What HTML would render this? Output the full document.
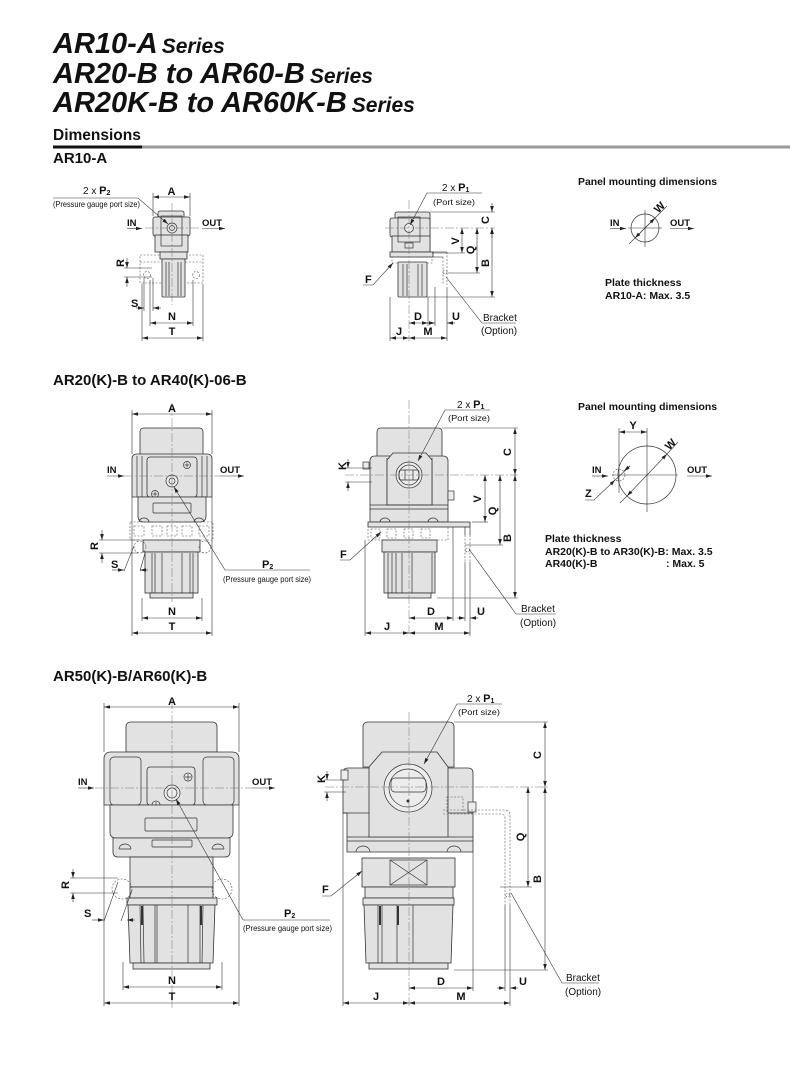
<!DOCTYPE html>
<html><head><meta charset="utf-8">
<style>
html,body{margin:0;padding:0;background:#fff;}
svg{display:block}
text{font-family:"Liberation Sans",Arial,sans-serif;fill:#111}
.b{font-weight:bold;font-size:11px}
.io{font-weight:bold;font-size:9.5px}
.sm{font-size:8px}
.br{font-size:10px}
.o{fill:#e2e2e2;stroke:#333;stroke-width:0.8}
.w{fill:#ececec;stroke:#333;stroke-width:0.7}
.l{stroke:#333;stroke-width:0.7;fill:none}
.d{stroke:#333;stroke-width:0.6;fill:none}
.c{stroke:#777;stroke-width:0.5;stroke-dasharray:9 2 2 2;fill:none}
.h{stroke:#555;stroke-width:0.6;stroke-dasharray:2 1.5;fill:none}
.pm{font-weight:bold;font-size:10.5px}
</style></head><body>
<svg width="790" height="1066" viewBox="0 0 790 1066" xmlns="http://www.w3.org/2000/svg">
<defs>
<marker id="a" viewBox="0 0 10 6" refX="10" refY="3" markerWidth="6" markerHeight="3.6" markerUnits="userSpaceOnUse" orient="auto-start-reverse" preserveAspectRatio="none"><path d="M0,0L10,3L0,6z" fill="#222"/></marker>
</defs>
<rect width="790" height="1066" fill="#fff"/>

<!-- Titles -->
<text x="53" y="53" font-size="29" font-weight="bold" font-style="italic">AR10-A<tspan font-size="21" dx="4">Series</tspan></text>
<text x="53" y="83" font-size="29" font-weight="bold" font-style="italic">AR20-B to AR60-B<tspan font-size="21" dx="5">Series</tspan></text>
<text x="53" y="112" font-size="29" font-weight="bold" font-style="italic">AR20K-B to AR60K-B<tspan font-size="21" dx="5">Series</tspan></text>
<text x="53" y="140" font-size="15.5" font-weight="bold">Dimensions</text>
<rect x="53" y="145.5" width="89" height="3" fill="#111"/>
<rect x="142" y="145.5" width="648" height="3" fill="#9a9a9a"/>
<text x="53" y="163" font-size="15" font-weight="bold">AR10-A</text>
<text x="53" y="385" font-size="15" font-weight="bold">AR20(K)-B to AR40(K)-06-B</text>
<text x="53" y="681" font-size="15" font-weight="bold">AR50(K)-B/AR60(K)-B</text>

<!-- ================= AR10-A FRONT ================= -->
<g>
<rect class="h" x="140" y="255" width="63" height="28"/>
<line class="h" x1="140" y1="262" x2="203" y2="262"/>
<circle class="h" cx="147" cy="275" r="3.5"/>
<circle class="h" cx="196" cy="275" r="3.5"/>
<rect class="o" x="158" y="211" width="26" height="41" rx="2"/>
<rect class="o" x="153" y="217" width="37" height="19" rx="2"/>
<rect class="o" x="155" y="235" width="33" height="17"/>
<rect class="l" x="161" y="216" width="21" height="30"/>
<rect class="o" x="160" y="252" width="27" height="7"/>
<rect class="o" x="162" y="259" width="23" height="38" rx="1"/>
<line class="l" x1="166" y1="262" x2="166" y2="296"/>
<line class="l" x1="169" y1="262" x2="169" y2="296"/>
<line class="l" x1="178" y1="262" x2="178" y2="296"/>
<line class="l" x1="181" y1="262" x2="181" y2="296"/>
<circle class="w" cx="172" cy="228" r="5"/>
<circle class="l" cx="172" cy="228" r="2.5"/>
<line class="c" x1="172" y1="203" x2="172" y2="305"/>
<line class="c" x1="145" y1="228" x2="199" y2="228"/>
<!-- A -->
<line class="d" x1="153" y1="197" x2="190" y2="197" marker-start="url(#a)" marker-end="url(#a)"/>
<line class="d" x1="153" y1="193" x2="153" y2="216"/>
<line class="d" x1="190" y1="193" x2="190" y2="216"/>
<text class="b" x="171.5" y="195" text-anchor="middle">A</text>
<!-- P2 -->
<text x="83" y="194" font-size="10">2 x <tspan font-weight="bold" font-size="11">P</tspan><tspan font-size="7" font-weight="bold" dy="1">2</tspan></text>
<text class="sm" x="53" y="207" textLength="87" lengthAdjust="spacingAndGlyphs">(Pressure gauge port size)</text>
<polyline class="d" points="53,198 138,198 168,224" marker-end="url(#a)"/>
<!-- IN OUT -->
<text class="io" x="127" y="226">IN</text>
<line class="d" x1="127" y1="228.5" x2="142" y2="228.5" marker-end="url(#a)"/>
<text class="io" x="202" y="226">OUT</text>
<line class="d" x1="202" y1="228.5" x2="225" y2="228.5" marker-end="url(#a)"/>
<!-- R -->
<line class="d" x1="124" y1="268" x2="152" y2="268"/>
<line class="d" x1="124" y1="277" x2="152" y2="277"/>
<line class="d" x1="127" y1="258" x2="127" y2="268" marker-end="url(#a)"/>
<line class="d" x1="127" y1="287" x2="127" y2="277" marker-end="url(#a)"/>
<text class="b" transform="translate(124,263) rotate(-90)" text-anchor="middle">R</text>
<!-- S -->
<line class="d" x1="144" y1="278" x2="144" y2="311"/>
<line class="d" x1="153" y1="278" x2="153" y2="311"/>
<line class="d" x1="136" y1="308" x2="144" y2="308" marker-end="url(#a)"/>
<line class="d" x1="161" y1="308" x2="153" y2="308" marker-end="url(#a)"/>
<text class="b" x="131" y="307">S</text>
<!-- N T -->
<line class="d" x1="150" y1="280" x2="150" y2="326"/>
<line class="d" x1="193" y1="280" x2="193" y2="326"/>
<line class="d" x1="150" y1="323" x2="193" y2="323" marker-start="url(#a)" marker-end="url(#a)"/>
<text class="b" x="172" y="320" text-anchor="middle">N</text>
<line class="d" x1="142" y1="284" x2="142" y2="341"/>
<line class="d" x1="203" y1="284" x2="203" y2="341"/>
<line class="d" x1="142" y1="338" x2="203" y2="338" marker-start="url(#a)" marker-end="url(#a)"/>
<text class="b" x="172" y="335" text-anchor="middle">T</text>
</g>

<!-- ================= AR10-A SIDE ================= -->
<g>
<rect class="o" x="395" y="212" width="35" height="40" rx="2"/>
<rect class="o" x="390" y="218" width="40" height="19" rx="2"/>
<rect class="o" x="392" y="236" width="38" height="16"/>
<rect class="l" x="398" y="217" width="22" height="25"/>
<rect class="l" x="405" y="243" width="8" height="5"/>
<rect class="o" x="390" y="252" width="43" height="5"/>
<line class="d" x1="433" y1="252" x2="447" y2="252"/>
<line class="d" x1="433" y1="257" x2="443" y2="257"/>
<path class="h" d="M447,252 V285 M443,257 V285"/>
<circle class="h" cx="445" cy="272" r="2"/>
<rect class="h" x="392" y="257" width="40" height="6"/>
<rect class="o" x="398" y="262" width="29" height="35" rx="1"/>
<line class="l" x1="403" y1="264" x2="403" y2="296"/>
<line class="l" x1="407" y1="264" x2="407" y2="296"/>
<line class="l" x1="418" y1="264" x2="418" y2="296"/>
<line class="l" x1="422" y1="264" x2="422" y2="296"/>
<circle class="w" cx="409" cy="228" r="4.5"/>
<line class="c" x1="409" y1="200" x2="409" y2="341"/>
<line class="c" x1="385" y1="228" x2="495" y2="228"/>
<line class="d" x1="430" y1="212" x2="495" y2="212"/>
<line class="d" x1="427" y1="297" x2="495" y2="297"/>
<line class="d" x1="432" y1="253" x2="465" y2="253"/>
<line class="d" x1="448" y1="273" x2="480" y2="273"/>
<!-- C -->
<line class="d" x1="492" y1="203" x2="492" y2="212" marker-end="url(#a)"/>
<line class="d" x1="492" y1="238" x2="492" y2="228" marker-end="url(#a)"/>
<text class="b" transform="translate(489,220) rotate(-90)" text-anchor="middle">C</text>
<line class="d" x1="462" y1="228" x2="462" y2="253" marker-start="url(#a)" marker-end="url(#a)"/>
<text class="b" transform="translate(459,241) rotate(-90)" text-anchor="middle">V</text>
<line class="d" x1="477" y1="228" x2="477" y2="273" marker-start="url(#a)" marker-end="url(#a)"/>
<text class="b" transform="translate(474,250) rotate(-90)" text-anchor="middle">Q</text>
<line class="d" x1="492" y1="228" x2="492" y2="297" marker-start="url(#a)" marker-end="url(#a)"/>
<text class="b" transform="translate(489,263) rotate(-90)" text-anchor="middle">B</text>
<!-- P1 -->
<text x="442" y="191" font-size="10">2 x <tspan font-weight="bold" font-size="11">P</tspan><tspan font-size="7" font-weight="bold" dy="1">1</tspan></text>
<text class="sm" x="433" y="205" font-size="9" textLength="42" lengthAdjust="spacingAndGlyphs">(Port size)</text>
<polyline class="d" points="482,193 427,193 410,225" marker-end="url(#a)"/>
<!-- F -->
<text class="b" x="365" y="283">F</text>
<polyline class="d" points="363,285 373,285 393,263" marker-end="url(#a)"/>
<!-- bottom dims -->
<line class="d" x1="390" y1="297" x2="390" y2="341"/>
<line class="d" x1="428" y1="297" x2="428" y2="326"/>
<line class="d" x1="435" y1="287" x2="435" y2="326"/>
<line class="d" x1="447" y1="287" x2="447" y2="341"/>
<line class="d" x1="409" y1="323" x2="428" y2="323" marker-start="url(#a)" marker-end="url(#a)"/>
<text class="b" x="418" y="320" text-anchor="middle">D</text>
<line class="d" x1="428" y1="323" x2="435" y2="323" marker-end="url(#a)"/>
<line class="d" x1="455" y1="323" x2="447" y2="323" marker-end="url(#a)"/>
<text class="b" x="456" y="320" text-anchor="middle">U</text>
<line class="d" x1="390" y1="338" x2="409" y2="338" marker-start="url(#a)" marker-end="url(#a)"/>
<text class="b" x="399" y="335" text-anchor="middle">J</text>
<line class="d" x1="409" y1="338" x2="447" y2="338" marker-start="url(#a)" marker-end="url(#a)"/>
<text class="b" x="428" y="335" text-anchor="middle">M</text>
<polyline class="d" points="446,277 482,323 516,323"/>
<text class="br" x="483" y="321">Bracket</text>
<text class="br" x="481" y="334">(Option)</text>
</g>

<!-- ================= PANEL AR10 ================= -->
<g>
<text class="pm" x="578" y="185" textLength="139" lengthAdjust="spacingAndGlyphs">Panel mounting dimensions</text>
<circle class="l" cx="645" cy="228" r="14"/>
<line class="d" x1="628" y1="228" x2="662" y2="228"/>
<line class="d" x1="645" y1="210" x2="645" y2="247"/>
<line class="d" x1="655" y1="218" x2="635" y2="238"/>
<line class="d" x1="645" y1="228" x2="655" y2="218" marker-end="url(#a)"/>
<line class="d" x1="645" y1="228" x2="635" y2="238" marker-end="url(#a)"/>
<line class="d" x1="655" y1="218" x2="667" y2="206"/>
<line class="d" x1="635" y1="238" x2="629" y2="244"/>
<text class="b" transform="translate(662,210) rotate(-45)" text-anchor="middle">W</text>
<text class="io" x="610" y="226">IN</text>
<line class="d" x1="610" y1="228.5" x2="626" y2="228.5" marker-end="url(#a)"/>
<text class="io" x="670" y="226">OUT</text>
<line class="d" x1="670" y1="228.5" x2="694" y2="228.5" marker-end="url(#a)"/>
<text class="pm" x="605" y="286">Plate thickness</text>
<text class="pm" x="605" y="299">AR10-A: Max. 3.5</text>
</g>

<!-- ================= AR20 FRONT ================= -->
<g>
<rect class="h" x="130" y="522" width="83" height="18"/>
<rect class="h" x="134" y="526" width="10" height="10"/>
<rect class="h" x="152" y="526" width="10" height="10"/>
<rect class="h" x="167" y="526" width="10" height="10"/>
<rect class="h" x="182" y="526" width="10" height="10"/>
<rect class="h" x="199" y="526" width="10" height="10"/>
<path class="o" d="M140,457 V432 Q140,428 144,428 H199 Q203,428 203,432 V457 Z"/>
<path class="o" d="M132,459 Q132,454 137,454 H207 Q212,454 212,459 V497 H132 Z"/>
<line class="l" x1="137" y1="456" x2="137" y2="497"/>
<line class="l" x1="142" y1="456" x2="142" y2="497"/>
<line class="l" x1="202" y1="456" x2="202" y2="497"/>
<line class="l" x1="207" y1="456" x2="207" y2="497"/>
<rect class="o" x="147" y="457" width="50" height="40" rx="3"/>
<circle class="w" cx="187" cy="465" r="3.5"/><path class="l" d="M184.5,465h5M187,462.5v5"/>
<circle class="w" cx="155" cy="494" r="3.5"/><path class="l" d="M152.5,494h5M155,491.5v5"/>
<path class="o" d="M138,497 H206 V516 Q206,522 200,522 H144 Q138,522 138,516 Z"/>
<rect class="l" x="153" y="503" width="38" height="10" rx="1"/>
<path class="l" d="M139,522 a5,4 0 0 1 10,0 M194,522 a5,4 0 0 1 10,0"/>
<rect class="o" x="143" y="540" width="57" height="12"/>
<rect class="o" x="145" y="552" width="53" height="41"/>
<rect class="o" x="150" y="593" width="43" height="5"/>
<line class="l" x1="152" y1="553" x2="152" y2="593"/>
<line class="l" x1="155" y1="553" x2="155" y2="593"/>
<line class="l" x1="162" y1="553" x2="162" y2="593"/>
<line class="l" x1="182" y1="553" x2="182" y2="593"/>
<line class="l" x1="190" y1="553" x2="190" y2="593"/>
<line class="l" x1="193" y1="553" x2="193" y2="593"/>
<circle class="h" cx="140" cy="547" r="6"/>
<circle class="h" cx="205" cy="547" r="6"/>
<circle class="w" cx="172" cy="481" r="6"/>
<circle class="l" cx="172" cy="481" r="3"/>
<line class="c" x1="172" y1="403" x2="172" y2="602"/>
<line class="c" x1="124" y1="476" x2="220" y2="476"/>
<line class="d" x1="132" y1="410" x2="132" y2="454"/>
<line class="d" x1="212" y1="410" x2="212" y2="454"/>
<line class="d" x1="132" y1="497" x2="132" y2="636"/>
<line class="d" x1="212" y1="497" x2="212" y2="636"/>
<line class="d" x1="132" y1="414" x2="212" y2="414" marker-start="url(#a)" marker-end="url(#a)"/>
<text class="b" x="172" y="412" text-anchor="middle">A</text>
<text class="io" x="107" y="473">IN</text>
<line class="d" x1="107" y1="476" x2="124" y2="476" marker-end="url(#a)"/>
<text class="io" x="220" y="473">OUT</text>
<line class="d" x1="220" y1="476" x2="244" y2="476" marker-end="url(#a)"/>
<polyline class="d" points="310,570 225,570 174,487" marker-end="url(#a)"/>
<text x="262" y="568" font-size="11" font-weight="bold">P<tspan font-size="7" dy="1">2</tspan></text>
<text class="sm" x="223" y="582" textLength="88" lengthAdjust="spacingAndGlyphs">(Pressure gauge port size)</text>
<!-- R -->
<line class="d" x1="99" y1="540" x2="140" y2="540"/>
<line class="d" x1="99" y1="553" x2="138" y2="553"/>
<line class="d" x1="102" y1="530" x2="102" y2="540" marker-end="url(#a)"/>
<line class="d" x1="102" y1="563" x2="102" y2="553" marker-end="url(#a)"/>
<text class="b" transform="translate(98,546) rotate(-90)" text-anchor="middle">R</text>
<!-- S -->
<text class="b" x="111" y="568">S</text>
<line class="d" x1="112" y1="570" x2="124" y2="570" marker-end="url(#a)"/>
<line class="d" x1="148" y1="570" x2="140" y2="570" marker-end="url(#a)"/>
<line class="d" x1="124" y1="571" x2="134" y2="546"/>
<line class="d" x1="140" y1="571" x2="145" y2="553"/>
<!-- N T -->
<line class="d" x1="142" y1="598" x2="142" y2="621"/>
<line class="d" x1="202" y1="598" x2="202" y2="621"/>
<line class="d" x1="142" y1="618" x2="202" y2="618" marker-start="url(#a)" marker-end="url(#a)"/>
<text class="b" x="172" y="615" text-anchor="middle">N</text>
<line class="d" x1="132" y1="633" x2="212" y2="633" marker-start="url(#a)" marker-end="url(#a)"/>
<text class="b" x="172" y="630" text-anchor="middle">T</text>
</g>

<!-- ================= AR20 SIDE ================= -->
<g>
<path class="o" d="M377,457 V432 Q377,428 381,428 H438 Q442,428 442,432 V457 Z"/>
<path class="o" d="M370,461 Q370,456 375,456 H443 Q448,456 448,461 V522 H370 Z"/>
<line class="l" x1="387" y1="458" x2="387" y2="505"/>
<line class="l" x1="432" y1="458" x2="432" y2="505"/>
<path class="o" d="M387,505 V460 L393,453 H426 L432,460 V505 Z"/>
<line class="l" x1="370" y1="505" x2="448" y2="505"/>
<line class="l" x1="370" y1="509" x2="448" y2="509"/>
<rect class="w" x="363" y="462" width="6" height="7"/>
<rect class="w" x="448" y="491" width="6" height="9"/>
<circle class="w" cx="409" cy="475" r="13"/>
<circle class="l" cx="409" cy="475" r="10"/>
<rect class="l" x="399" y="470" width="20" height="10" rx="2"/>
<line class="l" x1="405" y1="470" x2="405" y2="480"/>
<line class="l" x1="413" y1="470" x2="413" y2="480"/>
<path class="l" d="M380,522 a5,4 0 0 1 10,0 M428,522 a5,4 0 0 1 10,0"/>
<rect class="o" x="368" y="522" width="102" height="5"/>
<rect class="h" x="368" y="527" width="80" height="13"/>
<rect class="h" x="371" y="529" width="9" height="9"/>
<rect class="h" x="387" y="529" width="9" height="9"/>
<rect class="h" x="404" y="529" width="9" height="9"/>
<rect class="h" x="421" y="529" width="9" height="9"/>
<path class="l" d="M465,527 V535 M470,527 V535"/>
<path class="h" d="M465,535 V562 M470,535 V562"/>
<circle class="h" cx="467.5" cy="550" r="2"/>
<rect class="o" x="382" y="540" width="55" height="12"/>
<rect class="o" x="384" y="552" width="51" height="41"/>
<rect class="o" x="388" y="593" width="43" height="5"/>
<line class="l" x1="388" y1="553" x2="388" y2="593"/>
<line class="l" x1="392" y1="553" x2="392" y2="593"/>
<line class="l" x1="396" y1="553" x2="396" y2="593"/>
<line class="l" x1="402" y1="553" x2="402" y2="593"/>
<line class="l" x1="412" y1="553" x2="412" y2="593"/>
<line class="l" x1="432" y1="553" x2="432" y2="593"/>
<line class="c" x1="409" y1="400" x2="409" y2="636"/>
<line class="c" x1="345" y1="475" x2="518" y2="475"/>
<line class="d" x1="442" y1="428" x2="518" y2="428"/>
<line class="d" x1="472" y1="522" x2="488" y2="522"/>
<line class="d" x1="465" y1="545" x2="503" y2="545"/>
<line class="d" x1="437" y1="598" x2="518" y2="598"/>
<line class="d" x1="515" y1="428" x2="515" y2="475" marker-start="url(#a)" marker-end="url(#a)"/>
<text class="b" transform="translate(511,452) rotate(-90)" text-anchor="middle">C</text>
<line class="d" x1="485" y1="475" x2="485" y2="522" marker-start="url(#a)" marker-end="url(#a)"/>
<text class="b" transform="translate(481,499) rotate(-90)" text-anchor="middle">V</text>
<line class="d" x1="500" y1="475" x2="500" y2="545" marker-start="url(#a)" marker-end="url(#a)"/>
<text class="b" transform="translate(496,511) rotate(-90)" text-anchor="middle">Q</text>
<line class="d" x1="515" y1="475" x2="515" y2="598" marker-start="url(#a)" marker-end="url(#a)"/>
<text class="b" transform="translate(511,538) rotate(-90)" text-anchor="middle">B</text>
<!-- K -->
<line class="d" x1="345" y1="468" x2="372" y2="468"/>
<line class="d" x1="345" y1="482" x2="372" y2="482"/>
<line class="d" x1="348" y1="459" x2="348" y2="468" marker-end="url(#a)"/>
<line class="d" x1="348" y1="491" x2="348" y2="482" marker-end="url(#a)"/>
<text class="b" transform="translate(346,466) rotate(-90)" text-anchor="middle">K</text>
<!-- P1 -->
<text x="457" y="408" font-size="10">2 x <tspan font-weight="bold" font-size="11">P</tspan><tspan font-size="7" font-weight="bold" dy="1">1</tspan></text>
<text class="sm" x="448" y="421" font-size="9" textLength="42" lengthAdjust="spacingAndGlyphs">(Port size)</text>
<polyline class="d" points="490,410 445,410 418,461" marker-end="url(#a)"/>
<!-- F -->
<text class="b" x="340" y="558">F</text>
<polyline class="d" points="340,560 350,560 381,532" marker-end="url(#a)"/>
<!-- bottom -->
<line class="d" x1="365" y1="540" x2="365" y2="636"/>
<line class="d" x1="453" y1="527" x2="453" y2="621"/>
<line class="d" x1="465" y1="562" x2="465" y2="621"/>
<line class="d" x1="470" y1="562" x2="470" y2="636"/>
<line class="d" x1="409" y1="618" x2="453" y2="618" marker-start="url(#a)" marker-end="url(#a)"/>
<text class="b" x="431" y="615" text-anchor="middle">D</text>
<line class="d" x1="457" y1="618" x2="465" y2="618" marker-end="url(#a)"/>
<line class="d" x1="478" y1="618" x2="470" y2="618" marker-end="url(#a)"/>
<text class="b" x="481" y="615" text-anchor="middle">U</text>
<line class="d" x1="365" y1="633" x2="409" y2="633" marker-start="url(#a)" marker-end="url(#a)"/>
<text class="b" x="387" y="630" text-anchor="middle">J</text>
<line class="d" x1="409" y1="633" x2="470" y2="633" marker-start="url(#a)" marker-end="url(#a)"/>
<text class="b" x="439" y="630" text-anchor="middle">M</text>
<polyline class="d" points="469,549 516,614 556,614"/>
<text class="br" x="521" y="612">Bracket</text>
<text class="br" x="520" y="626">(Option)</text>
</g>

<!-- ================= PANEL AR20 ================= -->
<g>
<text class="pm" x="578" y="410" textLength="139" lengthAdjust="spacingAndGlyphs">Panel mounting dimensions</text>
<circle class="l" cx="647" cy="475" r="29"/>
<circle class="h" cx="619" cy="475" r="6"/>
<line class="d" x1="612" y1="475" x2="678" y2="475"/>
<line class="d" x1="619" y1="428" x2="619" y2="493"/>
<line class="d" x1="647" y1="428" x2="647" y2="512"/>
<line class="d" x1="619" y1="432" x2="647" y2="432" marker-start="url(#a)" marker-end="url(#a)"/>
<text class="b" x="633" y="429" text-anchor="middle">Y</text>
<line class="d" x1="647" y1="475" x2="667" y2="454" marker-end="url(#a)"/>
<line class="d" x1="647" y1="475" x2="627" y2="496" marker-end="url(#a)"/>
<line class="d" x1="667" y1="454" x2="678" y2="442"/>
<line class="d" x1="627" y1="496" x2="620" y2="503"/>
<text class="b" transform="translate(673,447) rotate(-45)" text-anchor="middle">W</text>
<polyline class="d" points="585,500 594,500 630,466"/>
<line class="d" x1="612" y1="483" x2="615" y2="480" marker-end="url(#a)"/>
<line class="d" x1="630" y1="466" x2="624" y2="471" marker-end="url(#a)"/>
<text class="b" x="585" y="497">Z</text>
<text class="io" x="592" y="473">IN</text>
<line class="d" x1="592" y1="476" x2="608" y2="476" marker-end="url(#a)"/>
<text class="io" x="687" y="473">OUT</text>
<line class="d" x1="687" y1="476" x2="712" y2="476" marker-end="url(#a)"/>
<text class="pm" x="545" y="542">Plate thickness</text>
<text class="pm" x="545" y="555">AR20(K)-B to AR30(K)-B: Max. 3.5</text>
<text class="pm" x="545" y="567">AR40(K)-B</text>
<text class="pm" x="666" y="567">: Max. 5</text>
</g>

<!-- ================= AR50 FRONT ================= -->
<g>
<path class="o" d="M126,752 V727 Q126,722 131,722 H212 Q217,722 217,727 V752 Z"/>
<path class="o" d="M104,759 Q104,752 111,752 H232 Q239,752 239,759 V805 H104 Z"/>
<rect class="l" x="110" y="757" width="31" height="48" rx="4"/>
<rect class="l" x="203" y="757" width="31" height="48" rx="4"/>
<rect class="o" x="147" y="767" width="48" height="38" rx="3"/>
<circle class="w" cx="188" cy="777" r="4"/><path class="l" d="M185,777h6M188,774v6"/>
<circle class="w" cx="156" cy="805" r="4"/><path class="l" d="M153,805h6M156,802v6"/>
<path class="o" d="M110,805 H233 V832 Q233,838 227,838 H116 Q110,838 110,832 Z"/>
<rect class="l" x="145" y="818" width="52" height="13" rx="1"/>
<path class="o" d="M113,838 H230 V852 Q230,857 225,857 H118 Q113,857 113,852 Z"/>
<rect class="l" x="152" y="840" width="40" height="7" rx="1"/>
<path class="l" d="M119,849 a6,5 0 0 1 12,0 M212,849 a6,5 0 0 1 12,0 M119,849 h12 M212,849 h12"/>
<rect class="o" x="130" y="857" width="83" height="30"/>
<rect class="o" x="130" y="887" width="83" height="11"/>
<rect class="o" x="127" y="898" width="90" height="7"/>
<path class="o" d="M128,905 H215 L213,963 H130 Z"/>
<rect class="o" x="133" y="963" width="77" height="6"/>
<line class="l" x1="140" y1="905" x2="141" y2="963"/>
<line class="l" x1="143" y1="905" x2="144" y2="963"/>
<line stroke="#333" stroke-width="2" x1="142" y1="906" x2="142" y2="925"/>
<line class="l" x1="155" y1="905" x2="155" y2="963"/>
<line class="l" x1="157" y1="905" x2="157" y2="963"/>
<line class="l" x1="188" y1="905" x2="188" y2="963"/>
<line class="l" x1="200" y1="905" x2="200" y2="963"/>
<line class="l" x1="203" y1="905" x2="202" y2="963"/>
<line stroke="#333" stroke-width="2" x1="201" y1="906" x2="201" y2="925"/>
<circle class="h" cx="122" cy="889" r="10"/>
<circle class="h" cx="222" cy="889" r="10"/>
<circle class="w" cx="172" cy="793" r="8"/>
<circle class="l" cx="172" cy="793" r="5"/>
<line class="c" x1="172" y1="700" x2="172" y2="1008"/>
<line class="c" x1="95" y1="788" x2="252" y2="788"/>
<line class="d" x1="104" y1="703" x2="104" y2="752"/>
<line class="d" x1="239" y1="703" x2="239" y2="752"/>
<line class="d" x1="104" y1="805" x2="104" y2="1006"/>
<line class="d" x1="239" y1="805" x2="239" y2="1006"/>
<line class="d" x1="104" y1="707" x2="239" y2="707" marker-start="url(#a)" marker-end="url(#a)"/>
<text class="b" x="172" y="705" text-anchor="middle">A</text>
<text class="io" x="78" y="785">IN</text>
<line class="d" x1="78" y1="788" x2="94" y2="788" marker-end="url(#a)"/>
<text class="io" x="252" y="785">OUT</text>
<line class="d" x1="252" y1="788" x2="275" y2="788" marker-end="url(#a)"/>
<polyline class="d" points="330,920 243,920 176,799" marker-end="url(#a)"/>
<text x="284" y="917" font-size="11" font-weight="bold">P<tspan font-size="7" dy="1">2</tspan></text>
<text class="sm" x="243" y="931" textLength="89" lengthAdjust="spacingAndGlyphs">(Pressure gauge port size)</text>
<!-- R -->
<line class="d" x1="70" y1="878" x2="118" y2="878"/>
<line class="d" x1="70" y1="893" x2="118" y2="893"/>
<line class="d" x1="73" y1="869" x2="73" y2="878" marker-end="url(#a)"/>
<line class="d" x1="73" y1="902" x2="73" y2="893" marker-end="url(#a)"/>
<text class="b" transform="translate(69,885) rotate(-90)" text-anchor="middle">R</text>
<!-- S -->
<text class="b" x="84" y="917">S</text>
<line class="d" x1="92" y1="920" x2="104" y2="920" marker-end="url(#a)"/>
<line class="d" x1="135" y1="920" x2="127" y2="920" marker-end="url(#a)"/>
<line class="d" x1="104" y1="921" x2="118" y2="882"/>
<line class="d" x1="121" y1="921" x2="132" y2="890"/>
<!-- N T -->
<line class="d" x1="123" y1="962" x2="123" y2="990"/>
<line class="d" x1="222" y1="962" x2="222" y2="990"/>
<line class="d" x1="123" y1="987" x2="222" y2="987" marker-start="url(#a)" marker-end="url(#a)"/>
<text class="b" x="172" y="984" text-anchor="middle">N</text>
<line class="d" x1="104" y1="1003" x2="239" y2="1003" marker-start="url(#a)" marker-end="url(#a)"/>
<text class="b" x="172" y="1000" text-anchor="middle">T</text>
</g>

<!-- ================= AR50 SIDE ================= -->
<g>
<path class="o" d="M363,767 V727 Q363,722 368,722 H449 Q454,722 454,727 V767 Z"/>
<path class="o" d="M343,773 Q343,768 348,768 H468 Q473,768 473,773 V852 H347 V813 H343 Z"/>
<line class="l" x1="343" y1="813" x2="473" y2="813"/>
<line class="l" x1="347" y1="837" x2="473" y2="837"/>
<line class="l" x1="347" y1="841" x2="473" y2="841"/>
<path class="o" d="M369,837 V767 L382,752 H437 L448,767 V837 Z"/>
<rect class="w" x="341" y="770" width="7" height="10"/>
<rect class="w" x="468" y="802" width="8" height="10"/>
<rect class="h" x="447" y="797" width="16" height="16"/>
<circle class="w" cx="408" cy="788" r="24"/>
<circle class="l" cx="408" cy="788" r="19"/>
<rect class="l" x="391" y="778" width="35" height="14" rx="4"/>
<circle cx="408" cy="801" r="1.5" fill="#333"/>
<path class="l" d="M356,852 a7,6 0 0 1 14,0 M447,852 a7,6 0 0 1 14,0"/>
<rect class="o" x="362" y="858" width="93" height="29"/>
<rect class="l" x="390" y="860" width="37" height="25"/>
<path class="l" d="M390,860 L427,885 M427,860 L390,885"/>
<rect class="o" x="365" y="887" width="88" height="11"/>
<rect class="o" x="363" y="898" width="91" height="7"/>
<path class="o" d="M364,905 H453 L451,963 H366 Z"/>
<rect class="o" x="369" y="963" width="79" height="6"/>
<line class="l" x1="378" y1="905" x2="378" y2="963"/>
<line class="l" x1="382" y1="905" x2="382" y2="963"/>
<line class="l" x1="397" y1="905" x2="397" y2="963"/>
<line stroke="#333" stroke-width="2" x1="380" y1="906" x2="380" y2="925"/>
<line stroke="#333" stroke-width="2" x1="398" y1="906" x2="398" y2="925"/>
<line class="l" x1="413" y1="905" x2="413" y2="963"/>
<path class="h" d="M443,810 H504 Q510,810 510,816 V905 M443,814 H501 Q505,814 505,818 V905"/>
<circle class="h" cx="507.5" cy="895" r="2"/>
<line class="c" x1="409" y1="712" x2="409" y2="1006"/>
<line class="c" x1="325" y1="787" x2="548" y2="787"/>
<line class="d" x1="454" y1="722" x2="548" y2="722"/>
<line class="d" x1="500" y1="887" x2="532" y2="887"/>
<line class="d" x1="454" y1="970" x2="548" y2="970"/>
<line class="d" x1="545" y1="722" x2="545" y2="787" marker-start="url(#a)" marker-end="url(#a)"/>
<text class="b" transform="translate(541,755) rotate(-90)" text-anchor="middle">C</text>
<line class="d" x1="528" y1="787" x2="528" y2="887" marker-start="url(#a)" marker-end="url(#a)"/>
<text class="b" transform="translate(524,837) rotate(-90)" text-anchor="middle">Q</text>
<line class="d" x1="545" y1="787" x2="545" y2="970" marker-start="url(#a)" marker-end="url(#a)"/>
<text class="b" transform="translate(541,879) rotate(-90)" text-anchor="middle">B</text>
<!-- K -->
<line class="d" x1="324" y1="780" x2="346" y2="780"/>
<line class="d" x1="324" y1="792" x2="346" y2="792"/>
<line class="d" x1="327" y1="771" x2="327" y2="780" marker-end="url(#a)"/>
<line class="d" x1="327" y1="801" x2="327" y2="792" marker-end="url(#a)"/>
<text class="b" transform="translate(325,779) rotate(-90)" text-anchor="middle">K</text>
<!-- P1 -->
<text x="467" y="702" font-size="10">2 x <tspan font-weight="bold" font-size="11">P</tspan><tspan font-size="7" font-weight="bold" dy="1">1</tspan></text>
<text class="sm" x="458" y="715" font-size="9" textLength="42" lengthAdjust="spacingAndGlyphs">(Port size)</text>
<polyline class="d" points="502,704 457,704 424,764" marker-end="url(#a)"/>
<!-- F -->
<text class="b" x="322" y="893">F</text>
<polyline class="d" points="322,896 331,896 362,871" marker-end="url(#a)"/>
<!-- bottom -->
<line class="d" x1="343" y1="813" x2="343" y2="1006"/>
<line class="d" x1="473" y1="852" x2="473" y2="991"/>
<line class="d" x1="505" y1="905" x2="505" y2="991"/>
<line class="d" x1="510" y1="905" x2="510" y2="1006"/>
<line class="d" x1="409" y1="988" x2="473" y2="988" marker-start="url(#a)" marker-end="url(#a)"/>
<text class="b" x="441" y="985" text-anchor="middle">D</text>
<line class="d" x1="497" y1="988" x2="505" y2="988" marker-end="url(#a)"/>
<line class="d" x1="518" y1="988" x2="510" y2="988" marker-end="url(#a)"/>
<text class="b" x="523" y="985" text-anchor="middle">U</text>
<line class="d" x1="343" y1="1003" x2="409" y2="1003" marker-start="url(#a)" marker-end="url(#a)"/>
<text class="b" x="376" y="1000" text-anchor="middle">J</text>
<line class="d" x1="409" y1="1003" x2="510" y2="1003" marker-start="url(#a)" marker-end="url(#a)"/>
<text class="b" x="461" y="1000" text-anchor="middle">M</text>
<polyline class="d" points="511,893 562,983 599,983"/>
<text class="br" x="566" y="981">Bracket</text>
<text class="br" x="565" y="995">(Option)</text>
</g>
</svg>
</body></html>
